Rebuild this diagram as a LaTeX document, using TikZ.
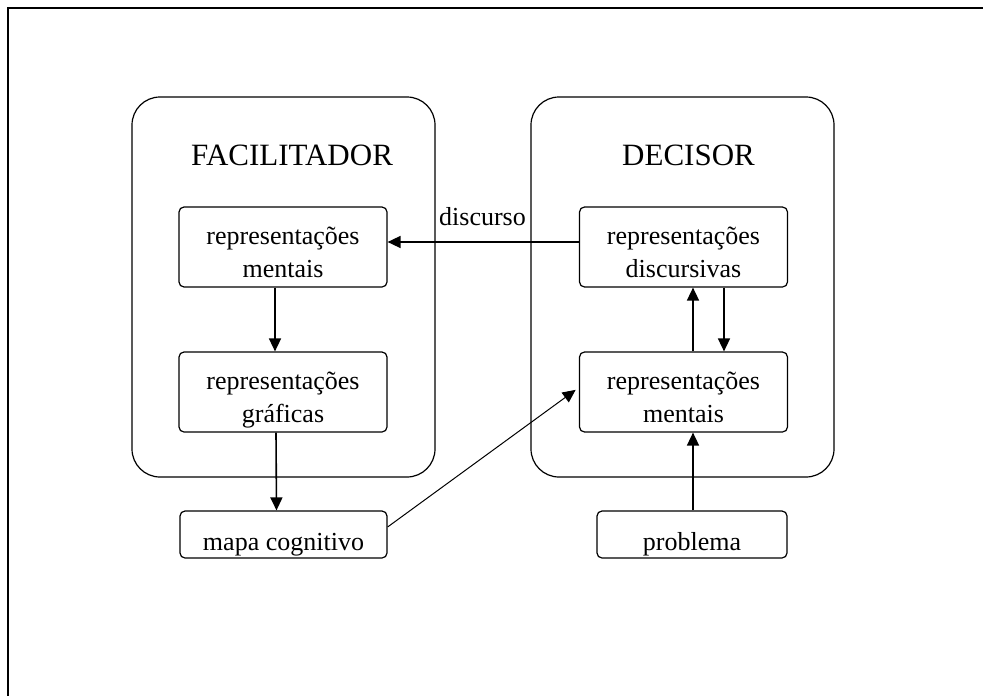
\documentclass[tikz,border=0pt]{standalone}
\usepackage{fontspec}
\setmainfont{Liberation Serif}
\usetikzlibrary{arrows.meta}
% text set a little below the middle of its box, keeping the box size
\newcommand\lowered[2]{\raisebox{#1}[\height][\depth]{#2}}
\newcommand\twoline[2]{\lowered{-7pt}{\begin{tabular}{@{}c@{}}#1\\#2\end{tabular}}}
\begin{document}
\begin{tikzpicture}[x=1pt,y=-1pt,
  group/.style={draw,line width=1.2pt,rounded corners=28pt,minimum width=303pt,minimum height=380pt,inner sep=0pt},
  title/.style={font=\fontsize{31}{36}\selectfont,inner sep=0pt},
  inner/.style={draw,line width=1.2pt,rounded corners=5pt,minimum width=208pt,minimum height=80pt,inner sep=0pt,font=\fontsize{26}{33}\selectfont},
  leaf/.style={draw,line width=1.2pt,rounded corners=5pt,minimum height=47pt,inner sep=0pt,font=\fontsize{26}{33}\selectfont},
  flow/.style={line width=1.6pt,-{Triangle[length=13pt,width=12pt]}},
  thinflow/.style={line width=1pt,-{Triangle[length=13pt,width=12pt]}}]
  \useasboundingbox (0,0) rectangle (983,696);
  % page frame, running past the right and bottom edges
  \draw[line width=1.3pt] (8,700) -- (8,8) -- (990,8);

  % the two actors
  \node[group] (facil) at (283.5,287) {};
  \node[group] (decis) at (682.5,287) {};
  \node[title] (tfacil) at (292,155) {FACILITADOR};
  \node[title] (tdecis) at (688.5,155) {DECISOR};

  % representations
  \node[inner] (L1) at (283,247) {\twoline{representações}{mentais}};
  \node[inner] (L2) at (283,392) {\twoline{representações}{gráficas}};
  \node[inner] (R1) at (683.5,247) {\twoline{representações}{discursivas}};
  \node[inner] (R2) at (683.5,392) {\twoline{representações}{mentais}};

  \node[leaf,minimum width=207pt] (mapa) at (283.5,534.5) {\lowered{-10pt}{mapa cognitivo}};
  \node[leaf,minimum width=190pt] (prob) at (692,534.5) {\lowered{-10pt}{problema}};

  % connectors
  \draw[flow] ([yshift=5pt]R1.west) -- ([yshift=5pt]L1.east);
  \node[anchor=base,inner sep=0pt,font=\fontsize{26}{33}\selectfont] (disc) at (482.5,225) {discurso};
  \draw[flow] ([xshift=-8pt]L1.south) -- ([xshift=-8pt]L2.north);
  \draw[flow] ([xshift=-7pt]L2.south) -- ([xshift=-7pt]mapa.north);
  \draw[flow] ([xshift=9.5pt]R2.north) -- ([xshift=9.5pt]R1.south);
  \draw[flow] ([xshift=40.5pt]R1.south) -- ([xshift=40.5pt]R2.north);
  \draw[flow] ([xshift=1pt]prob.north) -- ([xshift=9.5pt]R2.south);
  \draw[thinflow,shorten >=4pt] ([yshift=7.5pt]mapa.east) -- ([yshift=4.5pt]R2.west);
\end{tikzpicture}
\end{document}
